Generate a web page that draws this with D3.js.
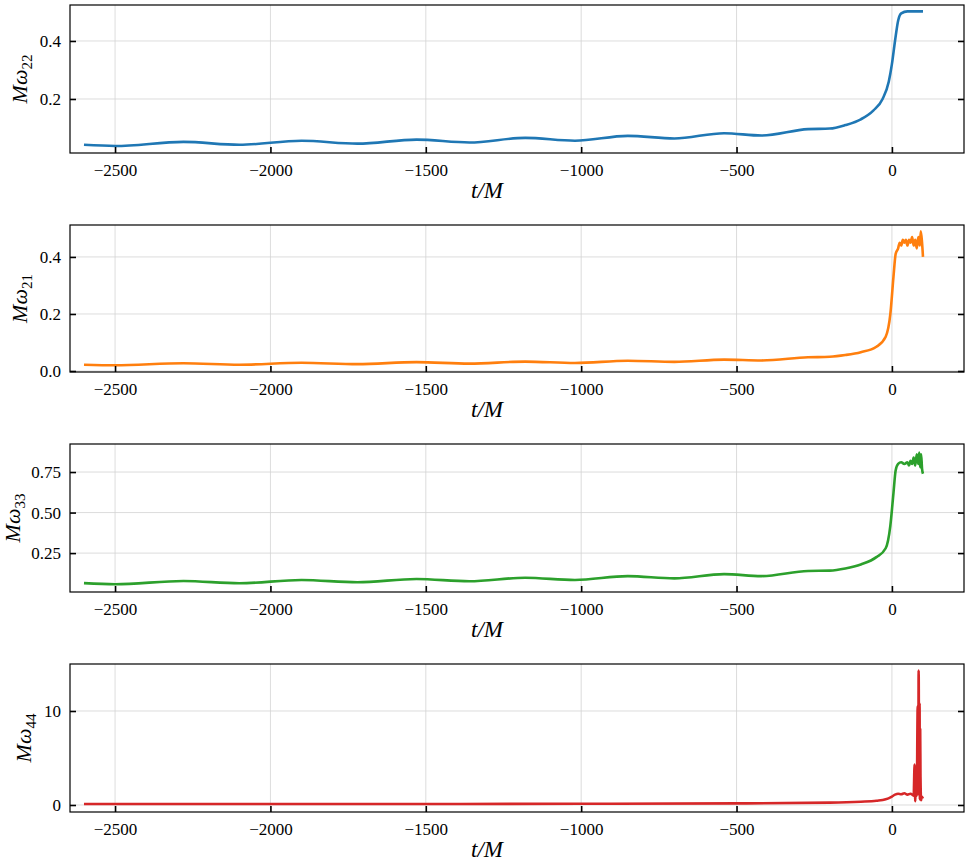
<!DOCTYPE html>
<html><head><meta charset="utf-8">
<script src="https://cdn.jsdelivr.net/npm/d3@7"></script>
<style>
body{margin:0;background:#fff;}
text{font-family:"Liberation Serif","DejaVu Serif",serif;}
</style></head>
<body><svg id="c" width="968" height="868"></svg>
<script>
const t22 = [-2600,-2500,-2280,-2100,-1900,-1720,-1530,-1360,-1180,-1020,-850,-700,-540,-420,-270,-200,-150,-100,-60,-30,-10,0,10,20,30,50,100];
const w22 = [0.042,0.038,0.052,0.042,0.056,0.046,0.060,0.050,0.066,0.056,0.073,0.064,0.082,0.074,0.096,0.098,0.110,0.130,0.160,0.200,0.260,0.320,0.400,0.470,0.495,0.502,0.502];

const t21 = [-2600,-2500,-2280,-2100,-1900,-1720,-1530,-1360,-1180,-1020,-850,-700,-540,-420,-270,-200,-150,-100,-50,-20,-5,5,12,20,25,30,35,40,45,50,55,60,65,70,75,80,85,90,93,97,100];
const w21 = [0.022,0.020,0.027,0.022,0.029,0.024,0.031,0.026,0.033,0.028,0.036,0.032,0.040,0.037,0.048,0.050,0.056,0.066,0.085,0.12,0.2,0.33,0.41,0.43,0.45,0.44,0.46,0.45,0.46,0.44,0.46,0.45,0.47,0.44,0.46,0.43,0.47,0.44,0.49,0.45,0.40];

const t33 = [-2600,-2500,-2280,-2100,-1900,-1720,-1530,-1360,-1180,-1020,-850,-700,-540,-420,-270,-200,-150,-100,-50,-20,-5,5,12,20,30,40,50,55,60,65,70,75,80,85,88,91,94,97,100];
const w33 = [0.065,0.058,0.078,0.064,0.084,0.070,0.090,0.076,0.098,0.084,0.108,0.094,0.120,0.108,0.140,0.142,0.155,0.180,0.225,0.28,0.42,0.62,0.76,0.80,0.81,0.80,0.81,0.79,0.82,0.80,0.84,0.79,0.86,0.80,0.87,0.78,0.86,0.77,0.74];

const t44 = [-2600,-2000,-1500,-1000,-500,-200,-100,-50,-20,0,10,20,30,40,50,60,70,73,75,77,80,83,85,86,88,89,90,91,92,94,96,100];
const w44 = [0.10,0.10,0.11,0.13,0.17,0.25,0.35,0.45,0.60,0.90,1.10,1.20,1.15,1.25,1.10,1.20,1.00,4.30,0.40,3.50,1.00,10.5,2.0,14.3,1.0,10.8,0.6,8.0,3.0,0.5,0.9,0.7];

const panels = [
  {t:t22, w:w22, sub:"22", color:"#1f77b4", y0:5, y1:153, dom:[0.0138,0.524], ticks:[0.2,0.4], fmt:d3.format(".1f"), lx:27},
  {t:t21, w:w21, sub:"21", color:"#ff7f0e", y0:225, y1:372, dom:[-0.0035,0.512], ticks:[0,0.2,0.4], fmt:d3.format(".1f"), lx:27},
  {t:t33, w:w33, sub:"33", color:"#2ca02c", y0:444, y1:592, dom:[0.01,0.923], ticks:[0.25,0.5,0.75], fmt:d3.format(".2f"), lx:20},
  {t:t44, w:w44, sub:"44", color:"#d62728", y0:664, y1:812, dom:[-0.745,15], ticks:[0,10], fmt:d3.format("d"), lx:31}
];
const xTicks = [-2500,-2000,-1500,-1000,-500,0];
const L = 70, R = 964;
const svg = d3.select("#c");
const x = d3.scaleLinear().domain([-2645,232]).range([L,R]);
const minus = s => String(s).replace("-","\u2212");

panels.forEach(p => {
  const y = d3.scaleLinear().domain(p.dom).range([p.y1,p.y0]);
  const g = svg.append("g");
  g.selectAll(".gx").data(xTicks).join("line")
    .attr("x1",d=>x(d)).attr("x2",d=>x(d)).attr("y1",p.y0).attr("y2",p.y1)
    .attr("stroke","#d3d3d3").attr("stroke-width",0.8);
  g.selectAll(".gy").data(p.ticks).join("line")
    .attr("x1",L).attr("x2",R).attr("y1",d=>y(d)).attr("y2",d=>y(d))
    .attr("stroke","#d3d3d3").attr("stroke-width",0.8);
  const pts = p.t.map((t,i)=>[t,p.w[i]]);
  g.append("path").datum(pts)
    .attr("d", d3.line().x(d=>x(d[0])).y(d=>y(d[1])).curve(d3.curveMonotoneX))
    .attr("fill","none").attr("stroke",p.color).attr("stroke-width",2.6);
  g.append("g").attr("transform",`translate(0,${p.y1})`)
    .call(d3.axisBottom(x).tickValues(xTicks).tickSize(-6).tickPadding(11).tickFormat(minus))
    .call(a=>a.select(".domain").remove());
  g.append("g").attr("transform",`translate(${L},0)`)
    .call(d3.axisLeft(y).tickValues(p.ticks).tickSize(-6).tickPadding(9).tickFormat(p.fmt))
    .call(a=>a.select(".domain").remove());
  g.append("g").attr("transform",`translate(${R},0)`)
    .call(d3.axisRight(y).tickValues(p.ticks).tickSize(-6).tickFormat(""))
    .call(a=>a.select(".domain").remove());
  g.selectAll(".tick line").attr("stroke","#000").attr("stroke-width",1.6);
  g.selectAll(".tick text").attr("font-size",17).attr("fill","#000");
  g.append("rect").attr("x",L).attr("y",p.y0).attr("width",R-L).attr("height",p.y1-p.y0)
    .attr("fill","none").attr("stroke","#000").attr("stroke-width",1.2);
  g.append("text").attr("x",(L+R)/2-30).attr("y",p.y1+45).attr("text-anchor","middle")
    .attr("font-size",23).attr("font-style","italic").text("t/M");
  const yl = g.append("text").attr("transform",`translate(${p.lx},${(p.y0+p.y1)/2}) rotate(-90)`)
    .attr("text-anchor","middle").attr("font-size",22).attr("font-style","italic");
  yl.append("tspan").text("Mω");
  yl.append("tspan").attr("font-size",15).attr("dy",5).attr("font-style","normal").text(p.sub);
});
</script></body></html>
